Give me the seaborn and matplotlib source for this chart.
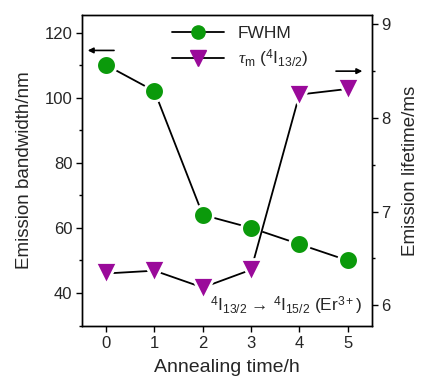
import matplotlib
matplotlib.use("Agg")
import matplotlib.pyplot as plt
from matplotlib.lines import Line2D
from matplotlib.ticker import MultipleLocator
import seaborn as sns

# Annealing series: emission bandwidth (FWHM) and 4I13/2 lifetime
anneal_h = [0, 1, 2, 3, 4, 5]
fwhm_nm = [110, 102, 64, 60, 55, 50]
lifetime_ms = [6.34, 6.37, 6.19, 6.38, 8.25, 8.31]
x_ticks = [0, 1, 2, 3, 4, 5]
left_ticks = [40, 60, 80, 100, 120]
right_ticks = [6, 7, 8, 9]

GREEN = "#0b9a0b"
PURPLE = "#9a0a9a"

sns.set_style("ticks")
plt.rcParams["font.family"] = ["Liberation Sans", "DejaVu Sans"]
plt.rcParams["mathtext.fontset"] = "custom"
plt.rcParams["mathtext.rm"] = "Liberation Sans"
plt.rcParams["mathtext.it"] = "Liberation Serif:italic"
plt.rcParams["mathtext.bf"] = "Liberation Sans:bold"

fig = plt.figure(figsize=(4.25, 3.83), dpi=100)
ax = fig.add_axes([0.193, 0.149, 0.682, 0.812])
ax2 = ax.twinx()

sns.lineplot(x=anneal_h, y=fwhm_nm, ax=ax, color="black", lw=1.3,
             marker="o", markersize=14.2, markerfacecolor=GREEN,
             markeredgecolor="white", markeredgewidth=2.0)
sns.lineplot(x=anneal_h, y=lifetime_ms, ax=ax2, color="black", lw=1.3,
             marker="v", markersize=16, markerfacecolor=PURPLE,
             markeredgecolor="white", markeredgewidth=2.0)

ax.set_xlim(-0.5, 5.5)
ax.set_ylim(29.9, 125.4)
ax2.set_ylim(5.78, 9.1)

ax.set_xticks(x_ticks)
ax.set_yticks(left_ticks)
ax.yaxis.set_minor_locator(MultipleLocator(10))
ax2.set_yticks(right_ticks)
ax2.yaxis.set_minor_locator(MultipleLocator(0.5))

for a in (ax, ax2):
    for s in a.spines.values():
        s.set_linewidth(1.0)
        s.set_color("black")
    a.tick_params(which="major", direction="out", length=4, width=1.0,
                  labelsize=12, color="black", pad=3)
    a.tick_params(which="minor", direction="out", length=2.5, width=1.0,
                  color="black")
ax.tick_params(axis="x", which="minor", bottom=False)

ax.set_xlabel("Annealing time/h", fontsize=14, labelpad=6)
ax.set_ylabel("Emission bandwidth/nm", fontsize=13.5, labelpad=8)
ax2.set_ylabel("Emission lifetime/ms", fontsize=13.5, labelpad=8)

# Arrows showing which axis each series belongs to
ax.annotate("", xy=(-0.44, 114.5), xytext=(0.22, 114.5),
            arrowprops=dict(arrowstyle="-|>", color="black", lw=1.2,
                            mutation_scale=8))
ax2.annotate("", xy=(5.36, 8.5), xytext=(4.7, 8.5),
             arrowprops=dict(arrowstyle="-|>", color="black", lw=1.2,
                             mutation_scale=8))

handles = [
    Line2D([], [], color="black", lw=1.3, marker="o", markersize=9.5,
           markerfacecolor=GREEN, markeredgecolor=GREEN),
    Line2D([], [], color="black", lw=1.3, marker="v", markersize=11,
           markerfacecolor=PURPLE, markeredgecolor=PURPLE),
]
labels = ["FWHM", r"$\tau_{\rm m}$ ($^{4}$I$_{13/2}$)"]
ax2.legend(handles, labels, loc="upper left", bbox_to_anchor=(0.31, 0.965),
           frameon=False, fontsize=12.5, handlelength=3.0, handletextpad=0.8,
           labelspacing=0.4, borderpad=0, borderaxespad=0)

ax2.text(0.965, 0.03,
         r"${}^{4}\mathrm{I}_{13/2}\,\rightarrow\,{}^{4}\mathrm{I}_{15/2}$ (Er$^{3+}$)",
         transform=ax2.transAxes, ha="right", va="bottom", fontsize=12.5,
         zorder=10)

fig.savefig("out.png", dpi=100)
